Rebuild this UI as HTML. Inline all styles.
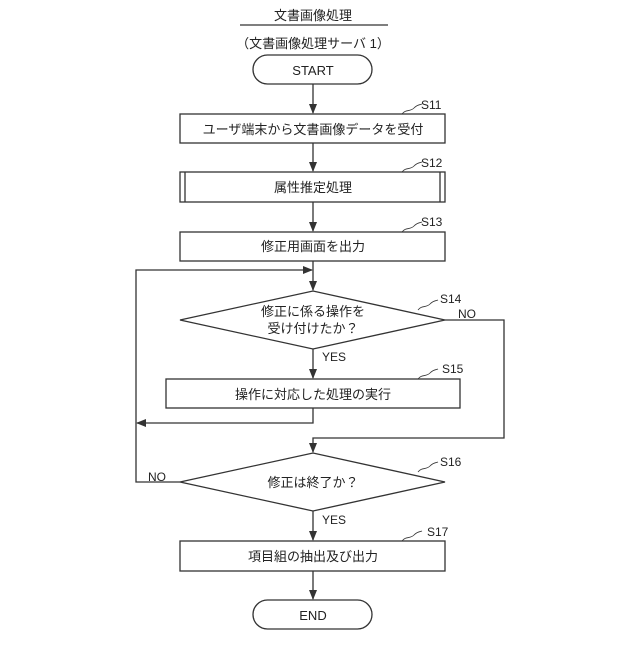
<!DOCTYPE html><html><head><meta charset="utf-8"><style>body{margin:0;background:#fff}</style></head><body>
<svg width="640" height="640" xmlns="http://www.w3.org/2000/svg" font-family="'Liberation Sans','Noto Sans CJK JP',sans-serif" fill="none" stroke="#333" stroke-width="1.3">
<defs><marker id="a" markerWidth="10" markerHeight="10" refX="9" refY="5" orient="auto" markerUnits="userSpaceOnUse"><path d="M0,1 L10,5 L0,9z" fill="#333" stroke="none"/></marker></defs>
<g fill="#222" stroke="none" font-size="13" text-anchor="middle">
<text x="313" y="20">文書画像処理</text>
<text x="313" y="48">（文書画像処理サーバ 1）</text>
<text x="313" y="75">START</text>
<text x="313" y="134">ユーザ端末から文書画像データを受付</text>
<text x="313" y="192">属性推定処理</text>
<text x="313" y="251">修正用画面を出力</text>
<text x="313" y="316">修正に係る操作を</text>
<text x="313" y="333">受け付けたか？</text>
<text x="313" y="399">操作に対応した処理の実行</text>
<text x="313" y="487">修正は終了か？</text>
<text x="313" y="561">項目組の抽出及び出力</text>
<text x="313" y="620">END</text>
<g text-anchor="start" font-size="12">
<text x="421" y="109">S11</text><text x="421" y="167">S12</text><text x="421" y="226">S13</text>
<text x="440" y="303">S14</text><text x="458" y="318">NO</text><text x="322" y="361">YES</text>
<text x="442" y="373">S15</text><text x="440" y="466">S16</text><text x="148" y="481">NO</text>
<text x="322" y="524">YES</text><text x="427" y="536">S17</text></g></g>
<line x1="240" y1="25" x2="388" y2="25"/>
<rect x="253" y="55" width="119" height="29" rx="14.5"/>
<rect x="180" y="114" width="265" height="29"/>
<rect x="180" y="172" width="265" height="30"/><line x1="185" y1="172" x2="185" y2="202"/><line x1="440" y1="172" x2="440" y2="202"/>
<rect x="180" y="232" width="265" height="29"/>
<path d="M180,320 L313,291 L445,320 L313,349Z"/>
<rect x="166" y="379" width="294" height="29"/>
<path d="M180,482 L313,453 L445,482 L313,511Z"/>
<rect x="180" y="541" width="265" height="30"/>
<rect x="253" y="600" width="119" height="29" rx="14.5"/>
<path d="M313,84V113" marker-end="url(#a)"/>
<path d="M313,143V171" marker-end="url(#a)"/>
<path d="M313,202V231" marker-end="url(#a)"/>
<path d="M313,261V290" marker-end="url(#a)"/>
<path d="M313,349V378" marker-end="url(#a)"/>
<path d="M313,408V423H137" marker-end="url(#a)"/>
<path d="M445,320H504V438H313V452" marker-end="url(#a)"/>
<path d="M180,482H136V270H312" marker-end="url(#a)"/>
<path d="M313,511V540" marker-end="url(#a)"/>
<path d="M313,571V599" marker-end="url(#a)"/>
<g stroke-width="0.8">
<path d="M402,114c4,-5 8,-2 12,-6s6,-3 8,-4"/><path d="M402,172c4,-5 8,-2 12,-6s6,-3 8,-4"/><path d="M402,232c4,-5 8,-2 12,-6s6,-3 8,-4"/>
<path d="M418,310c4,-5 8,-2 12,-6s6,-3 8,-4"/><path d="M418,379c4,-5 8,-2 12,-6s6,-3 8,-4"/><path d="M418,472c4,-5 8,-2 12,-6s6,-3 8,-4"/><path d="M402,541c4,-5 8,-2 12,-6s6,-3 8,-4"/></g>
</svg></body></html>
